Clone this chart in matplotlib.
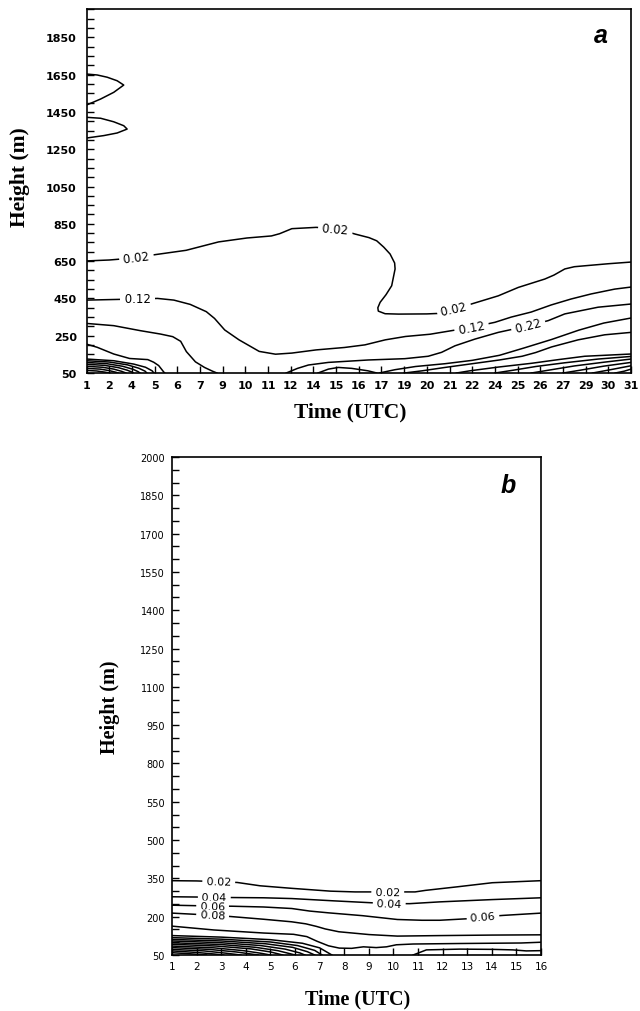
import numpy as np
import matplotlib
matplotlib.use("Agg")
import matplotlib.pyplot as plt

# ---------------------------------------------------------------- panel (a)
A_TIME_LABELS = ["1", "2", "4", "5", "6", "7", "9", "10", "11", "12", "14", "15",
                 "16", "17", "19", "20", "21", "22", "24", "25", "26", "27", "29",
                 "30", "31"]
A_HEIGHT_TICKS = [50, 250, 450, 650, 850, 1050, 1250, 1450, 1650, 1850]

# isolines, (time index, height m)
A_002 = [(0, 651), (1.0, 656), (2.0, 666), (3.04, 685), (4.39, 708), (5.82, 753),
         (7.07, 774), (8.15, 785), (8.51, 797), (9.05, 824), (10.12, 831),
         (11.02, 824), (11.84, 795), (12.45, 776), (12.79, 759), (13.1, 725),
         (13.38, 688), (13.58, 640), (13.6, 608), (13.52, 560), (13.45, 518),
         (13.2, 470), (12.94, 429), (12.84, 400), (12.86, 382), (13.16, 368),
         (13.75, 366), (15.0, 367), (15.6, 370), (16.24, 393), (16.96, 420),
         (18.15, 464), (19.03, 509), (20.2, 554), (20.6, 575), (21.08, 608),
         (21.5, 620), (21.96, 625), (23.0, 636), (24, 645)]
A_002_UPPER = [(0, 1653), (0.47, 1648), (0.91, 1636), (1.35, 1617), (1.64, 1594),
               (1.2, 1555), (0.62, 1519), (0.1, 1492), (0, 1487)]
A_002_LOWER = [(0, 1421), (0.62, 1416), (1.2, 1397), (1.64, 1376), (1.79, 1358),
               (1.35, 1337), (0.76, 1323), (0, 1310)]
A_012 = [(0, 441), (1.5, 445), (3.13, 450), (3.85, 441), (4.57, 418), (5.28, 379),
         (5.64, 343), (6.09, 281), (6.72, 228), (7.61, 166), (8.33, 151), (9.05, 157),
         (10.12, 174), (11.37, 187), (12.27, 201), (13.17, 228), (14.06, 246),
         (15.14, 258), (16.03, 276), (16.97, 295), (18.0, 322), (18.72, 350),
         (19.6, 377), (20.48, 415), (21.36, 447), (22.24, 474), (23.28, 500), (24, 511)]
A_022_LEFT = [(0, 316), (1.2, 304), (2.38, 277), (3.26, 259), (3.8, 245), (4.15, 220),
              (4.4, 165), (4.8, 110), (5.2, 80), (5.55, 60), (5.75, 50)]
A_022_RIGHT = [(8.8, 50), (9.3, 75), (9.78, 93), (10.66, 107), (12.42, 120),
               (14.03, 127), (15.06, 140), (15.65, 161), (16.24, 196), (17.12, 232),
               (18.15, 268), (19.47, 303), (20.35, 331), (21.08, 367), (22.55, 403),
               (24, 420)]
A_032_LEFT = [(0, 205), (0.47, 188), (1.2, 152), (1.9, 128), (2.7, 122), (2.96, 108),
              (3.18, 90), (3.4, 56), (3.45, 50)]
A_032_HUMP = [(10.2, 50), (10.66, 71), (11.1, 80), (11.69, 75), (12.4, 62), (12.8, 50)]
A_032_RIGHT = [(12.9, 50), (13.6, 68), (14.5, 85), (15.8, 100), (17.0, 118), (18.2, 145),
               (19.3, 185), (20.5, 230), (21.7, 280), (22.8, 318), (24, 345)]
A_042_RIGHT = [(14.0, 50), (14.8, 62), (15.8, 80), (17.0, 100), (18.2, 120), (19.2, 140),
               (19.8, 160), (20.5, 190), (21.67, 228), (22.84, 255), (24, 268)]
A_052_RIGHT = [(16.3, 50), (16.9, 62), (18.15, 82), (19.6, 102), (20.8, 122),
               (21.96, 140), (24, 152)]
A_062_RIGHT = [(18.0, 50), (18.8, 65), (19.8, 85), (21.08, 105), (22.55, 125), (24, 139)]
A_072_RIGHT = [(19.6, 50), (20.5, 68), (21.5, 88), (22.8, 108), (24, 125)]
A_082_RIGHT = [(21.0, 50), (21.8, 66), (22.8, 87), (24, 107)]
A_092_RIGHT = [(22.3, 50), (23.1, 68), (24, 89)]
A_102_RIGHT = [(23.3, 50), (23.7, 60), (24, 71)]
# surface layer near the first hours
A_BUNDLE_LEFT = [
    [(0, 125), (1.2, 116), (2.08, 98), (2.6, 81), (2.89, 62), (2.97, 50)],
    [(0, 116), (1.0, 109), (1.8, 94), (2.3, 76), (2.58, 60), (2.66, 50)],
    [(0, 107), (0.9, 100), (1.6, 86), (2.05, 70), (2.28, 57), (2.36, 50)],
    [(0, 97), (0.8, 91), (1.4, 79), (1.8, 65), (2.0, 55), (2.06, 50)],
    [(0, 86), (0.7, 81), (1.2, 71), (1.55, 59), (1.74, 50)],
    [(0, 75), (0.6, 71), (1.0, 63), (1.3, 54), (1.4, 50)],
    [(0, 64), (0.45, 61), (0.8, 55), (1.02, 50)],
]

A_LINES = [A_002, A_002_UPPER, A_002_LOWER, A_012, A_022_LEFT, A_022_RIGHT,
           A_032_LEFT, A_032_HUMP, A_032_RIGHT, A_042_RIGHT, A_052_RIGHT,
           A_062_RIGHT, A_072_RIGHT, A_082_RIGHT, A_092_RIGHT, A_102_RIGHT] + A_BUNDLE_LEFT
A_LABELS = [("0.02", A_002, 2.2), ("0.02", A_002, 10.97), ("0.02", A_002, 16.2),
            ("0.12", A_012, 2.25), ("0.12", A_012, 16.97), ("0.22", A_022_RIGHT, 19.47)]

# ---------------------------------------------------------------- panel (b)
B_TIME = list(range(1, 17))
B_HEIGHT_LABELS = ["50", "200", "350", "500", "550", "800", "950", "1100", "1250",
                   "1400", "1550", "1700", "1850", "2000"]

B_002 = [(1, 341), (2.0, 340), (2.9, 337), (3.65, 334), (4.58, 321), (5.87, 311),
         (7.44, 300), (8.44, 297), (9.77, 297), (10.88, 297), (11.3, 303),
         (12.6, 317), (14.02, 333), (16, 341)]
B_004 = [(1, 278), (2.0, 277), (2.72, 275), (3.43, 275), (4.72, 274), (5.87, 271),
         (7.58, 262), (9.01, 255), (9.83, 251), (10.66, 251), (11.88, 258),
         (14.02, 267), (16, 274)]
B_006 = [(1, 245), (2.0, 243), (2.65, 241), (3.43, 241), (4.72, 238), (5.87, 232),
         (6.6, 222), (7.37, 215), (8.74, 204), (10.16, 189), (11.16, 186),
         (11.88, 186), (13.02, 192), (13.64, 199), (14.45, 205), (16, 214)]
B_008 = [(1, 214), (2.0, 209), (2.65, 205), (3.34, 201), (4.72, 190), (5.86, 180),
         (6.44, 172), (6.87, 162), (7.23, 152), (7.78, 141), (9.01, 130),
         (10.16, 124), (11.88, 126), (14.0, 128), (16, 129)]
B_010 = [(1, 163), (2.7, 148), (4.73, 136), (5.94, 131), (6.48, 122), (6.89, 104),
         (7.36, 86), (7.8, 77), (8.3, 76), (8.78, 82), (9.3, 79), (9.72, 82),
         (10.12, 90), (10.8, 93), (12.7, 95), (15.19, 97), (16, 100)]
B_012_RIGHT = [(10.8, 50), (11.34, 70), (12.69, 73), (14.04, 72), (14.85, 70),
               (15.4, 66), (16, 67)]
B_BUNDLE_LEFT = [
    [(1, 126), (3, 120), (5, 110), (6.3, 96), (7.0, 78), (7.5, 50)],
    [(1, 118), (3, 112), (5, 101), (6.1, 87), (6.8, 68), (7.1, 50)],
    [(1, 111), (3, 105), (4.8, 94), (5.9, 80), (6.5, 63), (6.8, 50)],
    [(1, 105), (3, 98), (4.6, 87), (5.6, 73), (6.2, 58), (6.4, 50)],
    [(1, 98), (3, 91), (4.4, 80), (5.3, 67), (5.8, 55), (6.0, 50)],
    [(1, 92), (2.8, 85), (4.2, 74), (5.0, 62), (5.5, 50)],
    [(1, 85), (2.7, 78), (3.9, 67), (4.6, 57), (5.0, 50)],
    [(1, 79), (2.5, 72), (3.6, 62), (4.2, 54), (4.5, 50)],
    [(1, 72), (2.3, 66), (3.2, 57), (3.8, 50)],
    [(1, 66), (2.0, 60), (2.7, 54), (3.1, 50)],
    [(1, 59), (1.7, 55), (2.4, 50)],
]

B_LINES = [B_002, B_004, B_006, B_008, B_010, B_012_RIGHT] + B_BUNDLE_LEFT
B_LABELS = [("0.02", B_002, 2.9), ("0.02", B_002, 9.77), ("0.04", B_004, 2.72),
            ("0.04", B_004, 9.83), ("0.06", B_006, 2.65), ("0.06", B_006, 13.64),
            ("0.08", B_008, 2.65)]

SERIF = "Liberation Serif"
SANS = "DejaVu Sans"


def _label(ax, pts, x_at, text, size, weight):
    xs = [p[0] for p in pts]
    ys = [p[1] for p in pts]
    n = len(xs)
    for k in range(n - 1):
        x0, x1 = xs[k], xs[k + 1]
        if x0 != x1 and min(x0, x1) <= x_at <= max(x0, x1):
            y_at = ys[k] + (x_at - x0) * (ys[k + 1] - ys[k]) / (x1 - x0)
            i0, i1 = max(k - 1, 0), min(k + 2, n - 1)
            a = ax.transData.transform((xs[i0], ys[i0]))
            b = ax.transData.transform((xs[i1], ys[i1]))
            ang = np.degrees(np.arctan2(b[1] - a[1], b[0] - a[0]))
            if ang > 90:
                ang -= 180
            elif ang < -90:
                ang += 180
            ax.text(x_at, y_at, f" {text} ", rotation=ang, rotation_mode="anchor",
                    ha="center", va="center", fontsize=size, family=SANS,
                    fontweight=weight, zorder=4,
                    bbox=dict(boxstyle="square,pad=0.05", fc="white", ec="none"))
            return


def _frame(ax):
    for sp in ax.spines.values():
        sp.set_linewidth(1.2)
    ax.tick_params(which="both", direction="in", length=5, width=1.0,
                   top=False, right=False)


def _draw(ax, lines, labels, size, weight):
    for pts in lines:
        ax.plot([p[0] for p in pts], [p[1] for p in pts], color="black", lw=1.1,
                solid_joinstyle="round", zorder=2)
    for text, pts, x_at in labels:
        _label(ax, pts, x_at, text, size, weight)


fig = plt.figure(figsize=(6.4, 10.12), dpi=100)

# panel a
ax_a = fig.add_axes([0.1352, 0.6304, 0.8508, 0.3594])
ax_a.set_xlim(0, len(A_TIME_LABELS) - 1)
ax_a.set_ylim(50, 2000)
_frame(ax_a)
ax_a.set_xticks(range(len(A_TIME_LABELS)))
ax_a.set_xticklabels(A_TIME_LABELS, fontsize=8, fontweight="bold", family=SANS)
ax_a.set_yticks(A_HEIGHT_TICKS)
ax_a.set_yticklabels([str(v) for v in A_HEIGHT_TICKS], fontsize=8,
                     fontweight="bold", family=SANS)
ax_a.set_yticks(np.arange(50, 2001, 50), minor=True)
ax_a.tick_params(axis="y", pad=7)
ax_a.tick_params(axis="x", pad=5)
_draw(ax_a, A_LINES, A_LABELS, 8.5, "normal")

fig.text(0.031, 0.825, "Height (m)", rotation=90, ha="center", va="center",
         family=SERIF, fontweight="bold", fontsize=15.5)
fig.text(0.547, 1 - 412 / 1012, "Time (UTC)", ha="center", va="center",
         family=SERIF, fontweight="bold", fontsize=15.5)
fig.text(0.939, 1 - 36 / 1012, "a", ha="center", va="center",
         family="Liberation Sans", fontweight="bold", style="italic", fontsize=18)

# panel b
ax_b = fig.add_axes([0.26875, 0.05534, 0.5766, 0.4921])
ax_b.set_xlim(1, 16)
ax_b.set_ylim(50, 2000)
_frame(ax_b)
ax_b.set_xticks(B_TIME)
ax_b.set_xticklabels([str(t) for t in B_TIME], fontsize=7.5, family=SANS)
ax_b.set_yticks(np.arange(50, 2001, 150))
ax_b.set_yticklabels(B_HEIGHT_LABELS, fontsize=7, family=SANS)
ax_b.set_yticks(np.arange(50, 2001, 50), minor=True)
ax_b.tick_params(axis="y", pad=5)
ax_b.tick_params(axis="x", pad=4)
_draw(ax_b, B_LINES, B_LABELS, 8, "normal")

fig.text(110 / 640, 1 - 707 / 1012, "Height (m)", rotation=90, ha="center",
         va="center", family=SERIF, fontweight="bold", fontsize=14.5)
fig.text(358 / 640, 1 - 999 / 1012, "Time (UTC)", ha="center", va="center",
         family=SERIF, fontweight="bold", fontsize=14.5)
fig.text(508 / 640, 1 - 486 / 1012, "b", ha="center", va="center",
         family="Liberation Sans", fontweight="bold", style="italic", fontsize=18)

fig.savefig("out.png", dpi=100)
